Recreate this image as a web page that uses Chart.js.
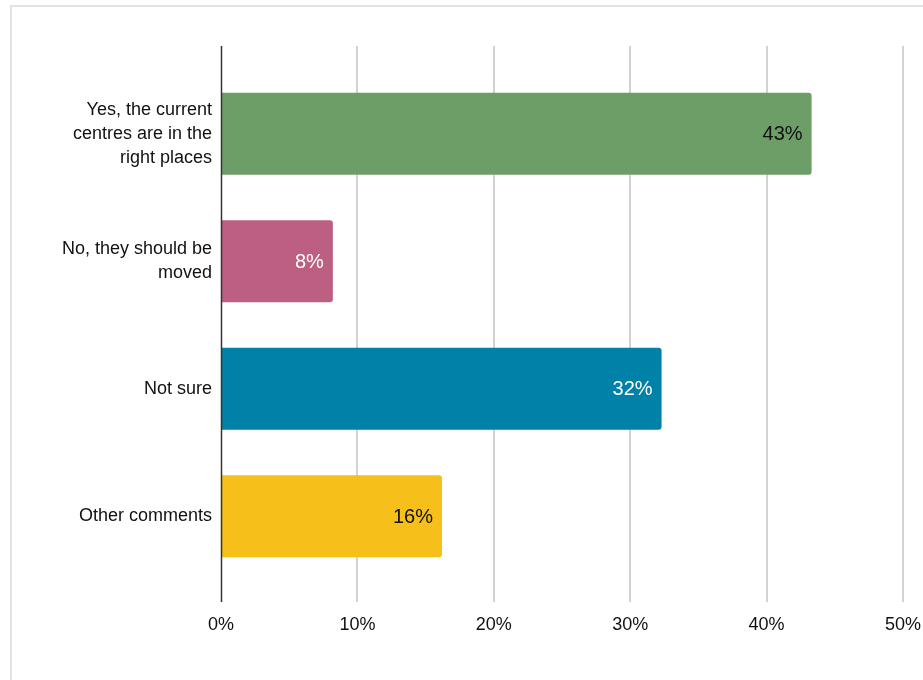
<!DOCTYPE html>
<html>
<head>
<meta charset="utf-8">
<script src="https://cdn.jsdelivr.net/npm/chart.js@4"></script>
<style>
  body { margin: 0; background: #fff; }
  #frame { position: absolute; left: 10px; top: 5px; width: 940px; height: 700px; border: 2px solid #e3e3e3; }
  #chart-wrap { position: absolute; left: 0; top: 0; width: 923px; height: 680px; }
</style>
</head>
<body>
<div id="frame"></div>
<div id="chart-wrap"><canvas id="chart-bar" width="923" height="680"></canvas></div>
<script>
const categories = [
  ['Yes, the current', 'centres are in the', 'right places'],
  ['No, they should be', 'moved'],
  'Not sure',
  'Other comments'
];
const shares = [43.3, 8.2, 32.3, 16.2];
const tickValues = [0, 10, 20, 30, 40, 50];

const barColors = ['#6e9e67', '#bc5f82', '#0081a8', '#f7bf19'];
const labelColors = ['#111', '#fff', '#fff', '#111'];
const FONT = 'Liberation Sans, Arial, sans-serif';

// vertical grid lines run a bit past the plot area, like the original
const gridPlugin = {
  id: 'longGrid',
  beforeDatasetsDraw(chart) {
    const { ctx, chartArea, scales } = chart;
    ctx.save();
    ctx.strokeStyle = '#d2d2d2';
    ctx.lineWidth = 2;
    tickValues.forEach(v => {
      if (v === 0) return;
      const x = Math.round(scales.x.getPixelForValue(v));
      ctx.beginPath();
      ctx.moveTo(x, chartArea.top - 24);
      ctx.lineTo(x, chartArea.bottom + 22);
      ctx.stroke();
    });
    ctx.restore();
  },
  afterDatasetsDraw(chart) {
    const { ctx, chartArea, scales } = chart;
    const meta = chart.getDatasetMeta(0);
    ctx.save();
    // value labels inside the bar ends
    ctx.font = '20px ' + FONT;
    ctx.textAlign = 'right';
    ctx.textBaseline = 'middle';
    meta.data.forEach((bar, i) => {
      ctx.fillStyle = labelColors[i];
      ctx.fillText(Math.round(shares[i]) + '%', bar.x - 9, bar.y + 1);
    });
    // zero axis line
    const x0 = Math.round(scales.x.getPixelForValue(0)) + 0.5;
    ctx.strokeStyle = '#333';
    ctx.lineWidth = 1.5;
    ctx.beginPath();
    ctx.moveTo(x0, chartArea.top - 24);
    ctx.lineTo(x0, chartArea.bottom + 22);
    ctx.stroke();
    ctx.restore();
  }
};

new Chart(document.getElementById('chart-bar'), {
  type: 'bar',
  data: {
    labels: categories,
    datasets: [{
      data: shares,
      backgroundColor: barColors,
      borderRadius: { topRight: 3, bottomRight: 3 },
      borderSkipped: 'start',
      categoryPercentage: 1,
      barPercentage: 0.645
    }]
  },
  options: {
    indexAxis: 'y',
    responsive: false,
    animation: false,
    layout: { padding: { top: 70, right: 20, left: 0, bottom: 0 } },
    plugins: { legend: { display: false }, tooltip: { enabled: false } },
    scales: {
      x: {
        min: 0,
        max: 50,
        afterBuildTicks: s => { s.ticks = tickValues.map(v => ({ value: v })); },
        afterFit: s => { s.height = 100; s.paddingLeft = 0; s.paddingRight = 0; },
        grid: { display: false, drawTicks: false },
        border: { display: false },
        ticks: {
          color: '#111',
          padding: 34,
          font: { family: FONT, size: 18 },
          callback: v => v + '%'
        }
      },
      y: {
        afterFit: s => { s.width = 221; s.paddingTop = 0; s.paddingBottom = 0; },
        grid: { display: false, drawTicks: false },
        border: { display: false },
        ticks: {
          color: '#111',
          padding: 9,
          font: { family: FONT, size: 18, lineHeight: 1.33 }
        }
      }
    }
  },
  plugins: [gridPlugin]
});
</script>
</body>
</html>
